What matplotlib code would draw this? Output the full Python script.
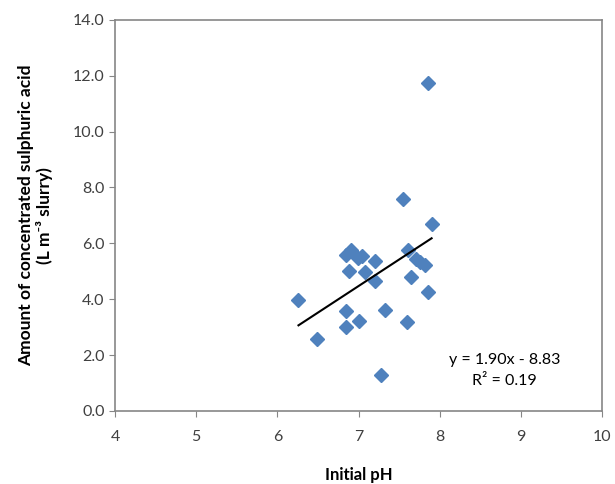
import numpy as np
import matplotlib.pyplot as plt

plt.rcParams['font.family'] = ['Lato', 'DejaVu Sans']

# initial slurry pH vs. acid needed
ph = [7.55, 7.90, 6.85, 6.91, 6.99, 7.04, 7.20, 7.61, 7.71, 7.76, 7.82,
      6.88, 7.08, 7.20, 7.65, 7.86, 6.26, 6.85, 7.33, 7.00, 6.84, 7.60,
      6.49, 7.28, 7.85]
acid = [7.60, 6.69, 5.57, 5.75, 5.46, 5.54, 5.38, 5.75, 5.45, 5.33, 5.21,
        5.01, 4.98, 4.65, 4.78, 4.26, 3.96, 3.57, 3.61, 3.22, 2.99, 3.19,
        2.57, 1.29, 11.75]

slope, intercept = 1.90, -8.83
r2 = 0.19
xticks = [4, 5, 6, 7, 8, 9, 10]
yticks = [0, 2, 4, 6, 8, 10, 12, 14]

fig = plt.figure(figsize=(6.15, 4.84), dpi=100)
ax = fig.add_axes([0.187, 0.151, 0.792, 0.808])

ax.plot(ph, acid, linestyle='none', marker='D', markersize=7.5,
        color='#4F81BD', markeredgecolor='#4F81BD')

fx = np.array([min(ph), max(ph)])
ax.plot(fx, slope * fx + intercept, color='black', linewidth=1.5)

ax.text(8.80, 1.82, f'y = {slope:.2f}x - {-intercept:.2f}', ha='center',
        va='center', fontsize=11.5)
ax.text(8.80, 1.07, f'R² = {r2:.2f}', ha='center', va='center', fontsize=11.5)

ax.set_xlim(4, 10)
ax.set_ylim(0, 14)
ax.set_xticks(xticks)
ax.set_yticks(yticks)
ax.set_yticklabels([f'{v:.1f}' for v in yticks])
for s in ax.spines.values():
    s.set_color('#868686')
    s.set_linewidth(1.2)
ax.tick_params(colors='#868686', labelcolor='#404040', labelsize=11.5,
               direction='out', length=4)
ax.tick_params(axis='x', pad=10)

ax.set_xlabel('Initial pH', fontsize=12, fontweight='bold', labelpad=16)
ax.set_ylabel('Amount of concentrated sulphuric acid\n(L m⁻³ slurry)',
              fontsize=12.5, fontweight='bold', labelpad=14, linespacing=1.2)

fig.savefig('out.png', dpi=100)
